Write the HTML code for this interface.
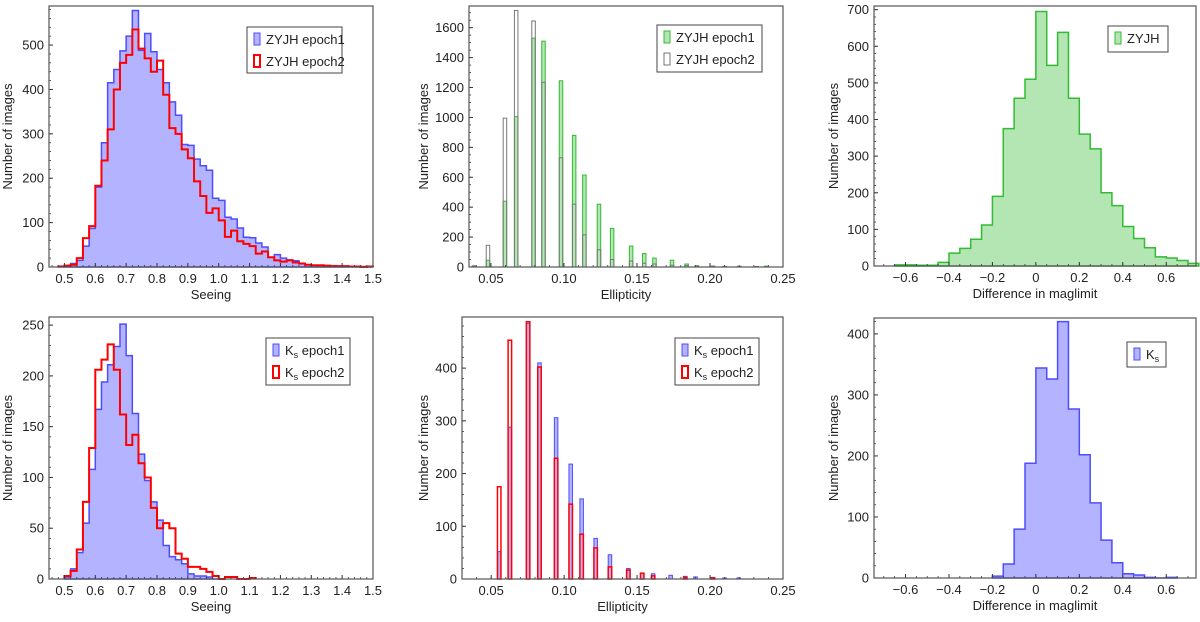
<!DOCTYPE html>
<html><head><meta charset="utf-8"><style>
body{margin:0;background:#fff;width:1200px;height:617px;overflow:hidden}
svg{font-family:"Liberation Sans",sans-serif}
</style></head><body>
<svg id="fig" width="1200" height="617" viewBox="0 0 1200 617" xmlns="http://www.w3.org/2000/svg"></svg>
<script>
// Panel 1: seeing ZYJH (bins 0.02 wide, left edges)
const seeZStart = 0.48;
const seeZEpoch1 = [2,3,8,15,47,87,180,280,415,445,487,520,578,488,526,485,445,415,372,342,276,274,243,228,218,155,150,112,108,88,67,66,54,45,22,28,20,16,14,8,5,4,4,3,3,2,2,1,1,1,0];
const seeZEpoch2 = [1,3,5,20,65,92,183,240,310,400,460,478,535,492,470,440,465,388,313,300,265,245,193,160,122,132,105,68,82,58,52,47,30,35,22,15,12,15,10,8,5,4,4,3,2,2,2,1,1,0,1];
const seeTicks = ["0.5","0.6","0.7","0.8","0.9","1.0","1.1","1.2","1.3","1.4","1.5"];
// Panel 2: ellipticity ZYJH
const ellZVals = [0.0384,0.048,0.0596,0.0673,0.0792,0.086,0.098,0.107,0.114,0.124,0.133,0.146,0.155,0.162,0.174,0.184,0.191,0.202,0.210,0.220,0.232,0.2386];
const ellZEpoch1 = [5,45,440,1005,1530,1510,1245,880,615,420,258,140,90,60,45,20,8,6,4,5,3,6];
const ellZEpoch2 = [8,145,995,1715,1645,1235,730,420,215,115,50,40,25,20,12,10,8,6,4,3,3,2];
const ellTicks = ["0.05","0.10","0.15","0.20","0.25"];
// Panel 3: maglimit difference ZYJH (bins 0.05, left edges)
const magZStart = -0.65;
const magZCounts = [3,3,2,2,10,35,48,73,112,190,375,458,510,695,548,638,458,360,320,200,165,108,75,50,25,22,15,7];
const magTicks = ["\u22120.6","\u22120.4","\u22120.2","0","0.2","0.4","0.6"];
// Panel 4: seeing Ks
const seeKStart = 0.50;
const seeKEpoch1 = [2,10,26,55,108,167,194,211,229,251,220,163,123,97,76,58,33,22,19,15,5,3,3,2,0];
const seeKEpoch2 = [3,8,29,76,129,206,216,231,206,162,132,142,114,100,70,50,55,50,25,20,12,12,10,7,3,0,2,2,0,0,1];
// Panel 5: ellipticity Ks
const ellKVals = [0.0555,0.0628,0.0753,0.0831,0.0945,0.1045,0.112,0.1216,0.1314,0.144,0.1535,0.161,0.173,0.183,0.190,0.202,0.210,0.2197];
const ellKEpoch1 = [52,288,485,410,306,218,152,77,46,20,11,10,7,5,4,3,2,2];
const ellKEpoch2 = [175,453,488,402,229,142,85,59,23,17,11,6,0,3,0,2,0,0];
// Panel 6: maglimit difference Ks
const magKStart = -0.20;
const magKCounts = [3,23,80,188,344,326,420,277,202,123,62,25,7,5,1,0,1];

const NS="http://www.w3.org/2000/svg";
const fig=document.getElementById('fig');
function mk(tag,attrs,parent){const e=document.createElementNS(NS,tag);for(const k in attrs)e.setAttribute(k,attrs[k]);(parent||fig).appendChild(e);return e;}

function makeAxes(p){
  const g=mk('g',{});
  
  
  const sx=v=>p.L+(v-p.x0)/(p.x1-p.x0)*(p.R-p.L);
  const sy=v=>p.B-(v-p.y0)/(p.y1-p.y0)*(p.B-p.T);
  return {g,sx,sy};
}
function frame(p,ax){
  const g=ax.g;
  // minor ticks
  for(let v=p.xmin0;v<=p.x1+1e-9;v+=p.xminor){const x=ax.sx(v);if(x<p.L-0.5||x>p.R+0.5)continue;mk('line',{x1:x,x2:x,y1:p.B,y2:p.B-2,stroke:'#333','stroke-width':0.8},g);}
  for(let v=0;v<=p.y1;v+=p.yminor){const y=ax.sy(v);mk('line',{x1:p.L,x2:p.L+2,y1:y,y2:y,stroke:'#333','stroke-width':0.8},g);}
  // major ticks + labels
  p.xt.forEach((lab,i)=>{const v=p.xtv[i];const x=ax.sx(v);
    mk('line',{x1:x,x2:x,y1:p.B,y2:p.B-4,stroke:'#333','stroke-width':1},g);
    const t=mk('text',{x:x,y:p.B+16,'text-anchor':'middle','font-size':13,fill:'#222'},g);t.textContent=lab;
    
    });
  p.yt.forEach(v=>{const y=ax.sy(v);
    mk('line',{x1:p.L,x2:p.L+4,y1:y,y2:y,stroke:'#333','stroke-width':1},g);
    const t=mk('text',{x:p.L-5,y:y+4.5,'text-anchor':'end','font-size':13,fill:'#222'},g);t.textContent=String(v);
    
    });
  mk('rect',{x:p.L,y:p.T,width:p.R-p.L,height:p.B-p.T,fill:'none',stroke:'#555','stroke-width':1.2},g);
  const xl=mk('text',{x:(p.L+p.R)/2,y:p.B+32,'text-anchor':'middle','font-size':13,fill:'#222'},g);xl.textContent=p.xlabel;
  
  
  const cy=(p.T+p.B)/2;
  const yl=mk('text',{x:p.ylx,y:cy,'text-anchor':'middle','font-size':13,fill:'#222',transform:`rotate(-90 ${p.ylx} ${cy})`},g);yl.textContent='Number of images';
  
  
}
function stepPath(ax,start,w,counts,close){
  let d=`M${ax.sx(start)},${ax.sy(0)}`;
  counts.forEach((c,i)=>{const x0=ax.sx(start+i*w),x1=ax.sx(start+(i+1)*w),y=ax.sy(c);d+=` L${x0},${y} L${x1},${y}`;});
  d+=` L${ax.sx(start+counts.length*w)},${ax.sy(0)}`;
  if(close)d+=' Z';
  return d;
}
function legend(g,x,y,w,h,entries){
  const lg=mk('g',{},g);
  
  
  mk('rect',{x:x,y:y,width:w,height:h,fill:'#fff',stroke:'#444','stroke-width':1},lg);
  entries.forEach((e,i)=>{const yy=y+12+i*22;
    const en=mk('g',{},lg);
    
    
    mk('rect',{x:x+7,y:yy-6,width:6,height:12,fill:e.fill,stroke:e.stroke,'stroke-width':e.sw||1},en);
    const t=mk('text',{x:x+19,y:yy+5,'font-size':13,fill:'#222'},en);
    if(e.ks){t.textContent='K';const s=mk('tspan',{'font-size':9,dy:3},t);s.textContent='s';const r=mk('tspan',{dy:-3},t);r.textContent=e.label;}
    else t.textContent=e.label;});
}
const BF='#b3b3ff',BS='#4d4dff',GF='#b3e6b3',GS='#33bb33';

// Panel 1
(function(){const p={name:'seeing-zyjh-panel',L:49,R:373,T:6,B:267,x0:0.45,x1:1.5,y0:0,y1:588,xminor:0.02,xmin0:0.46,yminor:20,
  xt:seeTicks,xtv:seeTicks.map(Number),yt:[0,100,200,300,400,500],xlabel:'Seeing',ylx:12};
  const ax=makeAxes(p);
  const f=mk('path',{d:stepPath(ax,seeZStart,0.02,seeZEpoch1,true),fill:BF,stroke:BS,'stroke-width':1.5},ax.g);
  
  
  const r=mk('path',{d:stepPath(ax,seeZStart,0.02,seeZEpoch2,false),fill:'none',stroke:'#f00','stroke-width':2},ax.g);
  
  
  frame(p,ax);
  legend(ax.g,247,27,95,46,[{fill:BF,stroke:BS,label:'ZYJH epoch1'},{fill:'#fff',stroke:'#f00',sw:2,label:'ZYJH epoch2'}]);
})();
// Panel 2
(function(){const p={name:'ellipticity-zyjh-panel',L:469,R:783,T:6,B:267,x0:0.035,x1:0.25,y0:0,y1:1745,xminor:0.01,xmin0:0.04,yminor:50,
  xt:ellTicks,xtv:ellTicks.map(Number),yt:[0,200,400,600,800,1000,1200,1400,1600],xlabel:'Ellipticity',ylx:428};
  const ax=makeAxes(p);
  ellZVals.forEach((v,i)=>{const x=ax.sx(v)-1.75;
    const b=mk('rect',{x:x,y:ax.sy(ellZEpoch1[i]),width:3.5,height:ax.sy(0)-ax.sy(ellZEpoch1[i]),fill:GF,stroke:GS,'stroke-width':1},ax.g);
    
    });
  ellZVals.forEach((v,i)=>{const x=ax.sx(v)-1.75;
    const b=mk('rect',{x:x,y:ax.sy(ellZEpoch2[i]),width:3.5,height:ax.sy(0)-ax.sy(ellZEpoch2[i]),fill:'none',stroke:'#777','stroke-width':1},ax.g);
    
    });
  frame(p,ax);
  legend(ax.g,657,25,105,47,[{fill:GF,stroke:GS,label:'ZYJH epoch1'},{fill:'#fff',stroke:'#777',label:'ZYJH epoch2'}]);
})();
// Panel 3
(function(){const p={name:'maglimit-zyjh-panel',L:874,R:1196,T:6,B:266,x0:-0.745,x1:0.737,y0:0,y1:710,xminor:0.05,xmin0:-0.7,yminor:20,
  xt:magTicks,xtv:[-0.6,-0.4,-0.2,0,0.2,0.4,0.6],yt:[0,100,200,300,400,500,600,700],xlabel:'Difference in maglimit',ylx:838};
  const ax=makeAxes(p);
  const f=mk('path',{d:stepPath(ax,magZStart,0.05,magZCounts,true),fill:GF,stroke:GS,'stroke-width':1.5},ax.g);
  
  
  frame(p,ax);
  legend(ax.g,1108,26,60,26,[{fill:GF,stroke:GS,label:'ZYJH'}]);
})();
// Panel 4
(function(){const p={name:'seeing-ks-panel',L:49,R:373,T:317,B:579,x0:0.45,x1:1.5,y0:0,y1:258,xminor:0.02,xmin0:0.46,yminor:10,
  xt:seeTicks,xtv:seeTicks.map(Number),yt:[0,50,100,150,200,250],xlabel:'Seeing',ylx:12};
  const ax=makeAxes(p);
  const f=mk('path',{d:stepPath(ax,seeKStart,0.02,seeKEpoch1,true),fill:BF,stroke:BS,'stroke-width':1.5},ax.g);
  
  
  const r=mk('path',{d:stepPath(ax,seeKStart,0.02,seeKEpoch2,false),fill:'none',stroke:'#f00','stroke-width':2},ax.g);
  
  
  frame(p,ax);
  legend(ax.g,266,338,84,47,[{fill:BF,stroke:BS,label:' epoch1',ks:1},{fill:'#fff',stroke:'#f00',sw:2,label:' epoch2',ks:1}]);
})();
// Panel 5
(function(){const p={name:'ellipticity-ks-panel',L:462,R:783,T:317,B:579,x0:0.03,x1:0.25,y0:0,y1:497,xminor:0.01,xmin0:0.04,yminor:20,
  xt:ellTicks,xtv:ellTicks.map(Number),yt:[0,100,200,300,400],xlabel:'Ellipticity',ylx:428};
  const ax=makeAxes(p);
  ellKVals.forEach((v,i)=>{const x=ax.sx(v)-1.75;
    const b=mk('rect',{x:x,y:ax.sy(ellKEpoch1[i]),width:3.5,height:ax.sy(0)-ax.sy(ellKEpoch1[i]),fill:BF,stroke:BS,'stroke-width':1},ax.g);
    
    });
  ellKVals.forEach((v,i)=>{if(!ellKEpoch2[i])return;const x=ax.sx(v)-1.75;
    const b=mk('rect',{x:x,y:ax.sy(ellKEpoch2[i]),width:3.5,height:ax.sy(0)-ax.sy(ellKEpoch2[i]),fill:'none',stroke:'#f00','stroke-width':1.5},ax.g);
    
    });
  frame(p,ax);
  legend(ax.g,675,338,84,47,[{fill:BF,stroke:BS,label:' epoch1',ks:1},{fill:'#fff',stroke:'#f00',sw:2,label:' epoch2',ks:1}]);
})();
// Panel 6
(function(){const p={name:'maglimit-ks-panel',L:874,R:1196,T:318,B:578,x0:-0.745,x1:0.737,y0:0,y1:426,xminor:0.05,xmin0:-0.7,yminor:20,
  xt:magTicks,xtv:[-0.6,-0.4,-0.2,0,0.2,0.4,0.6],yt:[0,100,200,300,400],xlabel:'Difference in maglimit',ylx:838};
  const ax=makeAxes(p);
  const f=mk('path',{d:stepPath(ax,magKStart,0.05,magKCounts,true),fill:BF,stroke:BS,'stroke-width':1.5},ax.g);
  
  
  frame(p,ax);
  legend(ax.g,1127,342,39,25,[{fill:BF,stroke:BS,label:'',ks:1}]);
})();
</script>
</body></html>
